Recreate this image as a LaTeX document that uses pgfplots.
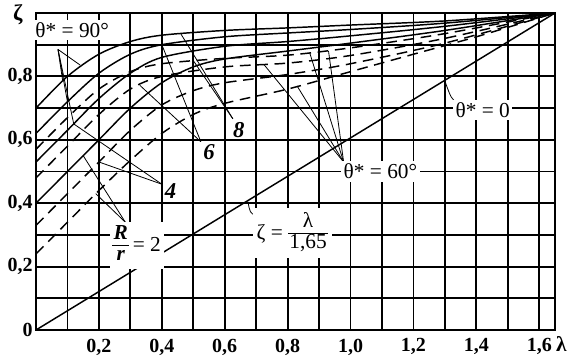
\documentclass[border=0pt]{standalone}
\usepackage{amsmath}
\usepackage{pgfplots}
\pgfplotsset{compat=1.18}
\usepackage{fontspec}
\setmainfont{Liberation Serif}
\newcommand{\myfrac}[2]{{\renewcommand{\arraystretch}{0.85}\setlength{\tabcolsep}{1pt}\begin{tabular}{c}#1\\\hline #2\end{tabular}}}
\begin{document}
\begin{tikzpicture}
\useasboundingbox (-27pt,-21pt) rectangle (398.25pt,247.5pt);
\begin{axis}[
  at={(0,0)}, anchor=south west,
  scale only axis, width=389.25pt, height=237.75pt,
  xmin=0, xmax=1.65, ymin=0, ymax=1,
  clip=false,
  axis line style={line width=1.5pt},
  xtick={0.2,0.4,0.6,0.8,1.0,1.2,1.4,1.6},
  xticklabels={{0,2},{0,4},{0,6},{0,8},{1,0},{1,2},{1,4},{1,6}},
  minor xtick={0.1,0.3,0.5,0.7,0.9,1.1,1.3,1.5},
  ytick={0,0.2,0.4,0.6,0.8},
  yticklabels={0,{0,2},{0,4},{0,6},{0,8}},
  minor ytick={0.1,0.3,0.5,0.7,0.9},
  grid=both,
  major grid style={black, line width=1.4pt},
  minor grid style={black, line width=1.4pt},
  tick style={draw=none},
  ticklabel style={font=\fontsize{15}{17}\selectfont\bfseries},
  xticklabel style={yshift=-3pt},
  yticklabel style={xshift=1pt},
]
% theta* = 90 deg (solid)
\addplot[black, line width=1.1pt, smooth, tension=0.5] coordinates {(0,0.70)(0.1,0.80)(0.2,0.87)(0.3,0.91)(0.4,0.93)(0.6,0.945)(0.8,0.953)(1.0,0.962)(1.3,0.975)(1.65,1)};
\addplot[black, line width=1.1pt, smooth, tension=0.5] coordinates {(0,0.62)(0.1,0.72)(0.2,0.81)(0.3,0.87)(0.4,0.90)(0.6,0.925)(0.8,0.937)(1.0,0.948)(1.3,0.968)(1.65,1)};
\addplot[black, line width=1.1pt, smooth, tension=0.5] coordinates {(0,0.53)(0.1,0.63)(0.2,0.73)(0.3,0.81)(0.4,0.86)(0.6,0.895)(0.8,0.91)(1.0,0.928)(1.3,0.958)(1.65,1)};
\addplot[black, line width=1.1pt, smooth, tension=0.5] coordinates {(0,0.40)(0.1,0.50)(0.2,0.60)(0.3,0.70)(0.4,0.78)(0.5,0.83)(0.6,0.855)(0.8,0.88)(1.0,0.905)(1.3,0.945)(1.65,1)};
% theta* = 60 deg (dashed)
\addplot[black, line width=1.1pt, smooth, tension=0.5, dash pattern=on 8pt off 5pt] coordinates {(0,0.57)(0.1,0.67)(0.2,0.76)(0.3,0.815)(0.4,0.84)(0.6,0.857)(0.8,0.867)(1.0,0.89)(1.3,0.935)(1.65,1)};
\addplot[black, line width=1.1pt, smooth, tension=0.5, dash pattern=on 8pt off 5pt] coordinates {(0,0.48)(0.1,0.58)(0.2,0.68)(0.3,0.76)(0.4,0.80)(0.6,0.83)(0.8,0.842)(1.0,0.866)(1.3,0.92)(1.65,1)};
\addplot[black, line width=1.1pt, smooth, tension=0.5, dash pattern=on 8pt off 5pt] coordinates {(0,0.33)(0.1,0.43)(0.2,0.53)(0.3,0.63)(0.4,0.71)(0.5,0.755)(0.6,0.78)(0.8,0.806)(1.0,0.84)(1.3,0.905)(1.65,1)};
\addplot[black, line width=1.1pt, smooth, tension=0.5, dash pattern=on 8pt off 5pt] coordinates {(0,0.24)(0.1,0.34)(0.2,0.44)(0.3,0.535)(0.4,0.62)(0.5,0.68)(0.6,0.715)(0.8,0.76)(1.0,0.815)(1.2,0.87)(1.4,0.925)(1.65,1)};
% theta* = 0
\addplot[black, line width=1.1pt] coordinates {(0,0)(1.65,1)};

% leader lines
\draw[line width=0.6pt] (axis cs:0.07,0.885) -- (axis cs:0.14,0.836);
\draw[line width=0.6pt] (axis cs:0.07,0.885) -- (axis cs:0.085,0.785);
\draw[line width=0.6pt] (axis cs:0.07,0.885) -- (axis cs:0.10,0.72);
\draw[line width=0.6pt] (axis cs:0.07,0.885) -- (axis cs:0.12,0.65);
\draw[line width=0.6pt] (axis cs:0.626,0.666) -- (axis cs:0.46,0.935);
\draw[line width=0.6pt] (axis cs:0.626,0.666) -- (axis cs:0.50,0.85);
\draw[line width=0.6pt] (axis cs:0.524,0.594) -- (axis cs:0.33,0.772);
\draw[line width=0.6pt] (axis cs:0.524,0.594) -- (axis cs:0.40,0.90);
\draw[line width=0.6pt] (axis cs:0.40,0.46) -- (axis cs:0.12,0.65);
\draw[line width=0.6pt] (axis cs:0.40,0.46) -- (axis cs:0.20,0.53);
\draw[line width=0.6pt] (axis cs:0.284,0.34) -- (axis cs:0.15,0.55);
\draw[line width=0.6pt] (axis cs:0.284,0.34) -- (axis cs:0.19,0.43);
\draw[line width=0.6pt] (axis cs:0.978,0.53) -- (axis cs:0.725,0.837);
\draw[line width=0.6pt] (axis cs:0.978,0.53) -- (axis cs:0.83,0.77);
\draw[line width=0.6pt] (axis cs:0.978,0.53) -- (axis cs:0.87,0.875);
\draw[line width=0.6pt] (axis cs:0.978,0.53) -- (axis cs:0.93,0.88);
\draw[line width=0.6pt] (axis cs:1.345,0.71) .. controls (axis cs:1.32,0.73) .. (axis cs:1.30,0.785);
\draw[line width=0.6pt] (axis cs:0.70,0.36) .. controls (axis cs:0.68,0.37) .. (axis cs:0.674,0.405);

% labels
\node[fill=white, inner sep=2pt, font=\fontsize{16}{18}\selectfont] at (axis cs:0.115,0.947) {θ* = 90°};
\node[fill=white, inner sep=2pt, font=\fontsize{16}{18}\selectfont] at (axis cs:1.42,0.694) {θ* = 0};
\node[fill=white, inner sep=2pt, font=\fontsize{16}{18}\selectfont] at (axis cs:1.095,0.5) {θ* = 60°};
\node[fill=white, inner sep=1pt, font=\fontsize{17}{19}\selectfont\bfseries\itshape] at (axis cs:0.645,0.631) {8};
\node[fill=white, inner sep=1pt, font=\fontsize{17}{19}\selectfont\bfseries\itshape] at (axis cs:0.55,0.5625) {6};
\node[fill=white, inner sep=1pt, font=\fontsize{17}{19}\selectfont\bfseries\itshape] at (axis cs:0.428,0.4375) {4};
\node[fill=white, inner sep=2pt, font=\fontsize{16}{18}\selectfont] at (axis cs:0.32,0.266) {\myfrac{\textbf{\textit{R}}}{\textbf{\textit{r}}}\,= 2};
\node[fill=white, inner sep=3pt, font=\fontsize{16}{18}\selectfont] at (axis cs:0.815,0.305) {ζ = \myfrac{λ}{1,65}};
\node[font=\fontsize{17}{19}\selectfont\bfseries] at (axis cs:-0.0575,0.994) {ζ};
\node[anchor=east, inner sep=1pt, font=\fontsize{16}{18}\selectfont\bfseries] at (axis cs:1.692,-0.044) {λ};
\end{axis}
\end{tikzpicture}
\end{document}
